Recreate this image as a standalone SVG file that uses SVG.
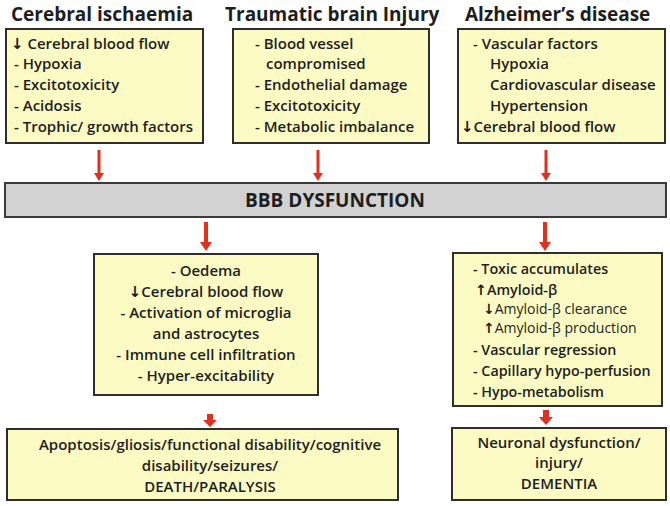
<svg xmlns="http://www.w3.org/2000/svg" width="670" height="506" viewBox="0 0 670 506">
<style>
text{font-family:"Open Sans","Liberation Sans",sans-serif;fill:#1e1e1e;font-weight:600}
.h{font-size:19px;font-weight:bold}
.t{font-size:15px}
.r{font-size:14.3px}
.s{font-size:14px;font-weight:normal}
.a{font-family:"DejaVu Sans",sans-serif;font-weight:bold}
.box{fill:#fdfbc4;stroke:#2e2e2e;stroke-width:2}
.bar{fill:#d2d2d2;stroke:#3a3a3a;stroke-width:2}
.c{text-anchor:middle}
.ln{stroke:#e0301e;stroke-width:3;fill:none}
.hd{fill:#e0301e}
</style>
<rect width="670" height="506" fill="#fff"/>
<g id="ischaemia">
<text class="h" x="11" y="21">Cerebral ischaemia</text>
<rect class="box" x="6" y="29" width="197" height="114"/>
<text class="t" x="11" y="49"><tspan class="a">↓</tspan> Cerebral blood flow</text>
<text class="t" x="14" y="69">- Hypoxia</text>
<text class="t" x="14" y="90">- Excitotoxicity</text>
<text class="t" x="14" y="111">- Acidosis</text>
<text class="t" x="14" y="132">- Trophic/ growth factors</text>
</g>
<g id="tbi">
<text class="h" x="225" y="21">Traumatic brain Injury</text>
<rect class="box" x="233" y="29" width="196" height="114"/>
<text class="t" x="255" y="49">- Blood vessel</text>
<text class="t" x="266" y="69">compromised</text>
<text class="t" x="255" y="90">- Endothelial damage</text>
<text class="t" x="255" y="111">- Excitotoxicity</text>
<text class="t" x="255" y="132">- Metabolic imbalance</text>
</g>
<g id="alzheimers">
<text class="h" x="465" y="21">Alzheimer’s disease</text>
<rect class="box" x="458" y="29" width="207" height="114"/>
<text class="t" x="473" y="49">- Vascular factors</text>
<text class="t" x="490" y="69">Hypoxia</text>
<text class="t" x="490" y="90">Cardiovascular disease</text>
<text class="t" x="490" y="111">Hypertension</text>
<text class="t" x="461" y="132"><tspan class="a">↓</tspan>Cerebral blood flow</text>
</g>
<g id="bbb">
<rect class="bar" x="5" y="183" width="661" height="34"/>
<text class="c" x="335" y="207" style="font-size:19px;font-weight:bold">BBB DYSFUNCTION</text>
</g>
<g id="effects">
<rect class="box" x="94" y="254" width="224" height="141"/>
<text class="t c" x="206" y="276">- Oedema</text>
<text class="t c" x="206" y="297"><tspan class="a">↓</tspan>Cerebral blood flow</text>
<text class="t c" x="206" y="318">- Activation of microglia</text>
<text class="t c" x="206" y="339">and astrocytes</text>
<text class="t c" x="206" y="360">- Immune cell infiltration</text>
<text class="t c" x="206" y="381">- Hyper-excitability</text>
</g>
<g id="ad-effects">
<rect class="box" x="453" y="253" width="209" height="153"/>
<text class="r" x="473" y="274">- Toxic accumulates</text>
<text class="r" x="475" y="295"><tspan class="a">↑</tspan>Amyloid-β</text>
<text class="s" x="483" y="314"><tspan class="a">↓</tspan>Amyloid-β clearance</text>
<text class="s" x="483" y="333"><tspan class="a">↑</tspan>Amyloid-β production</text>
<text class="r" x="473" y="355">- Vascular regression</text>
<text class="r" x="473" y="376">- Capillary hypo-perfusion</text>
<text class="r" x="473" y="397">- Hypo-metabolism</text>
</g>
<g id="outcome">
<rect class="box" x="7" y="429" width="391" height="71"/>
<text class="t c" x="210" y="450">Apoptosis/gliosis/functional disability/cognitive</text>
<text class="t c" x="210" y="471">disability/seizures/</text>
<text class="t c" x="210" y="492">DEATH/PARALYSIS</text>
</g>
<g id="dementia">
<rect class="box" x="452" y="428" width="214" height="72"/>
<text class="t c" x="559" y="448">Neuronal dysfunction/</text>
<text class="t c" x="559" y="468">injury/</text>
<text class="t c" x="559" y="489">DEMENTIA</text>
</g>
<g id="connectors">
<line class="ln" x1="99" y1="150" x2="99" y2="174"/><path class="hd" d="M94,173 L104,173 L99,181 Z"/>
<line class="ln" x1="318" y1="150" x2="318" y2="174"/><path class="hd" d="M313,173 L323,173 L318,181 Z"/>
<line class="ln" x1="546" y1="150" x2="546" y2="174"/><path class="hd" d="M541,173 L551,173 L546,181 Z"/>
<line class="ln" x1="206" y1="222" x2="206" y2="244" style="stroke-width:4"/><path class="hd" d="M200,242 L212,242 L206,251 Z"/>
<line class="ln" x1="545" y1="222" x2="545" y2="244" style="stroke-width:4"/><path class="hd" d="M539,242 L551,242 L545,251 Z"/>
<path class="hd" d="M207,414 L213,414 L213,420 L217,420 L210,427 L203,420 L207,420 Z"/>
<path class="hd" d="M543,410 L549,410 L549,417 L553,417 L546,425 L539,417 L543,417 Z"/>
</g>
</svg>
